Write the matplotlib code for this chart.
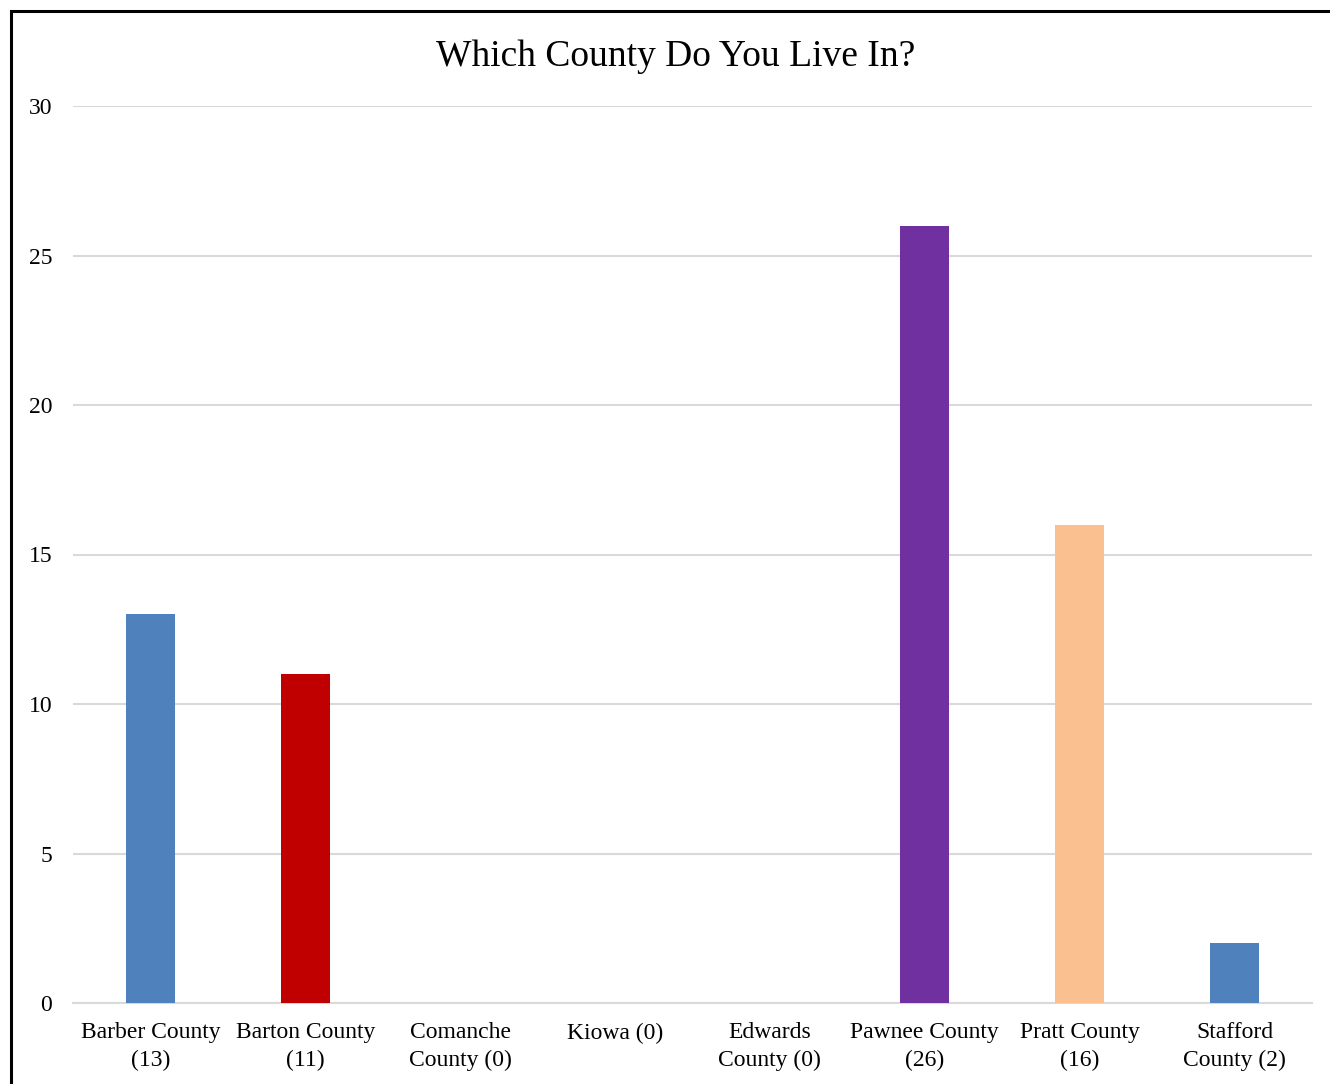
import matplotlib
matplotlib.use("Agg")
import matplotlib.pyplot as plt
from matplotlib.patches import Rectangle

categories = ["Barber County\n(13)", "Barton County\n(11)", "Comanche\nCounty (0)", "Kiowa (0)",
              "Edwards\nCounty (0)", "Pawnee County\n(26)", "Pratt County\n(16)", "Stafford\nCounty (2)"]
values = [13, 11, 0, 0, 0, 26, 16, 2]
colors = ["#4F81BD", "#C00000", "#4F81BD", "#4F81BD", "#4F81BD", "#7030A0", "#FAC090", "#4F81BD"]
yticks = [0, 5, 10, 15, 20, 25, 30]

plt.rcParams['font.family'] = ['Liberation Serif', 'DejaVu Serif']

W, H = 1330, 1084
fig = plt.figure(figsize=(W/100, H/100), dpi=100)
ax = fig.add_axes([73/W, 1-1003/H, (1312-73)/W, (1003-106)/H])

x = list(range(len(values)))
ax.bar(x, values, width=0.316, color=colors, zorder=3)
ax.set_xlim(-0.5, len(values)-0.5)
ax.set_ylim(0, 30)
ax.set_yticks(yticks)
ax.set_xticks(x)
ax.set_xticklabels(categories, fontsize=17, linespacing=1.38)
ax.tick_params(axis='y', labelsize=17, length=0, pad=15)
ax.tick_params(axis='x', length=0, pad=14)
ax.grid(axis='y', color='#D9D9D9', linewidth=1.5, zorder=0)
for s in ['top', 'right', 'left']:
    ax.spines[s].set_visible(False)
ax.spines['bottom'].set_color('#D9D9D9')
ax.spines['bottom'].set_linewidth(1.5)

fig.text(676/W, 1-57/H, "Which County Do You Live In?", fontsize=27, ha='center', va='center')

fig.patches.append(Rectangle((11/W, -0.1), 1.2, 1-11/H+0.1, transform=fig.transFigure,
                             fill=False, edgecolor='black', linewidth=2.2, zorder=10))

fig.savefig("out.png", dpi=100)
